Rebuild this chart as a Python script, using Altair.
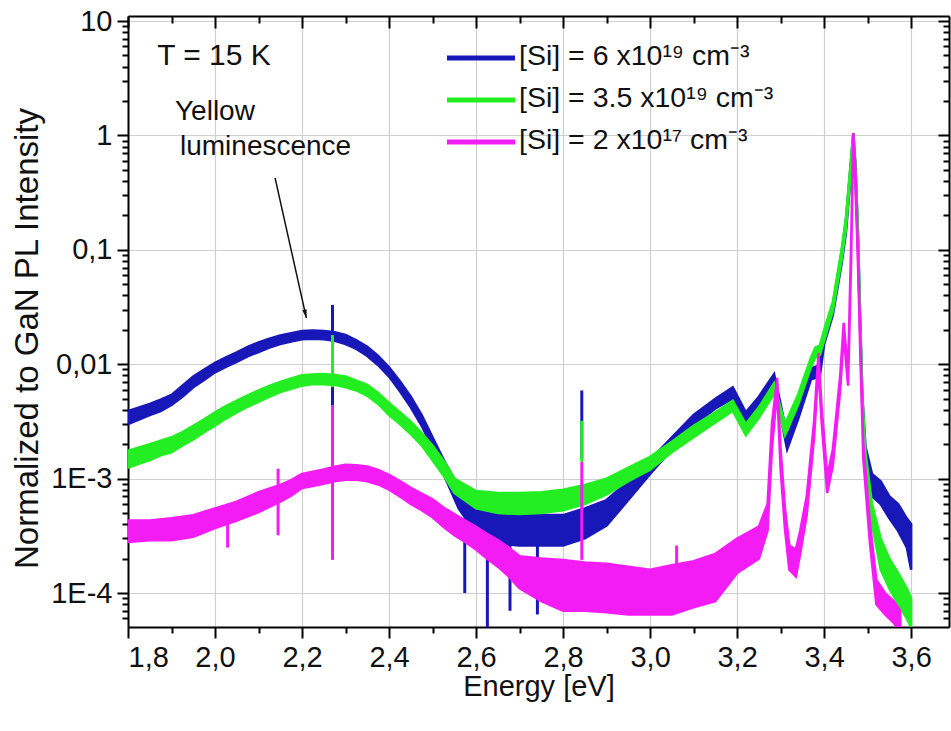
import altair as alt
import pandas as pd

# ---------------------------------------------------------------
# PL spectra at T = 15 K, normalised to the GaN band-edge peak.
# Each trace is stored as the lower / upper edge of its noisy band.
# ---------------------------------------------------------------

# [Si] = 6 x10^19 cm^-3
si6_E = [1.80, 1.85, 1.875, 1.90, 1.925, 1.95, 1.975, 2.00, 2.025, 2.05, 2.075, 2.10,
         2.125, 2.15, 2.175, 2.20, 2.225, 2.25, 2.275, 2.30, 2.325, 2.35, 2.375, 2.40,
         2.425, 2.45, 2.475, 2.50, 2.53, 2.56, 2.60, 2.65, 2.70, 2.75, 2.80, 2.85,
         2.90, 2.95, 3.00, 3.05, 3.10, 3.15, 3.19, 3.22, 3.25, 3.285, 3.30, 3.315,
         3.34, 3.37, 3.39, 3.40, 3.42, 3.44, 3.45, 3.46, 3.467, 3.472, 3.478, 3.483,
         3.488, 3.495, 3.51, 3.53, 3.55, 3.57, 3.59, 3.60]
si6_lo = [3.0e-3, 3.6e-3, 3.9e-3, 4.4e-3, 5.2e-3, 6.3e-3, 7.3e-3, 8.5e-3, 9.5e-3,
          1.05e-2, 1.17e-2, 1.28e-2, 1.40e-2, 1.50e-2, 1.58e-2, 1.65e-2, 1.67e-2,
          1.65e-2, 1.60e-2, 1.50e-2, 1.36e-2, 1.18e-2, 9.8e-3, 7.8e-3, 5.8e-3, 4.2e-3,
          2.9e-3, 1.85e-3, 1.0e-3, 5.5e-4, 3.3e-4, 2.7e-4, 2.6e-4, 2.6e-4, 2.6e-4,
          3.0e-4, 3.9e-4, 6.5e-4, 1.1e-3, 1.8e-3, 2.9e-3, 4.1e-3, 5.0e-3, 3.0e-3,
          4.2e-3, 6.6e-3, 3.5e-3, 1.8e-3, 3.3e-3, 7.4e-3, 7.8e-3, 1.5e-2, 2.7e-2,
          7.5e-2, 0.14, 0.40, 0.92, 0.42, 0.10, 1.8e-2, 4.0e-3, 1.4e-3, 7.0e-4,
          6.0e-4, 4.5e-4, 3.5e-4, 2.5e-4, 1.6e-4]
si6_hi = [3.9e-3, 4.5e-3, 4.9e-3, 5.4e-3, 6.5e-3, 7.8e-3, 9.0e-3, 1.03e-2, 1.15e-2,
          1.27e-2, 1.42e-2, 1.55e-2, 1.67e-2, 1.78e-2, 1.87e-2, 1.95e-2, 1.97e-2,
          1.95e-2, 1.90e-2, 1.80e-2, 1.62e-2, 1.42e-2, 1.18e-2, 9.4e-3, 7.1e-3, 5.2e-3,
          3.6e-3, 2.3e-3, 1.35e-3, 8.5e-4, 6.0e-4, 5.0e-4, 4.8e-4, 4.8e-4, 4.8e-4,
          5.5e-4, 6.5e-4, 9.5e-4, 1.45e-3, 2.3e-3, 3.6e-3, 5.0e-3, 6.3e-3, 3.8e-3,
          5.2e-3, 8.2e-3, 4.5e-3, 2.3e-3, 4.1e-3, 9.2e-3, 9.8e-3, 1.9e-2, 3.3e-2,
          9.5e-2, 0.18, 0.50, 1.05, 0.55, 0.13, 2.4e-2, 5.2e-3, 1.9e-3, 1.1e-3,
          9.5e-4, 7.0e-4, 6.0e-4, 4.5e-4, 4.0e-4]

# [Si] = 3.5 x10^19 cm^-3
si35_E = [1.80, 1.85, 1.875, 1.90, 1.925, 1.95, 1.975, 2.00, 2.025, 2.05, 2.075, 2.10,
          2.125, 2.15, 2.175, 2.20, 2.225, 2.25, 2.275, 2.30, 2.325, 2.35, 2.375, 2.40,
          2.425, 2.45, 2.475, 2.50, 2.53, 2.55, 2.60, 2.65, 2.70, 2.75, 2.80, 2.85,
          2.90, 2.95, 3.00, 3.05, 3.10, 3.15, 3.19, 3.22, 3.25, 3.285, 3.31, 3.34,
          3.37, 3.38, 3.39, 3.40, 3.42, 3.44, 3.45, 3.46, 3.467, 3.472, 3.478, 3.483,
          3.488, 3.495, 3.51, 3.53, 3.55, 3.57, 3.59, 3.60]
si35_lo = [1.25e-3, 1.45e-3, 1.6e-3, 1.7e-3, 1.95e-3, 2.2e-3, 2.55e-3, 2.9e-3, 3.35e-3,
           3.8e-3, 4.25e-3, 4.7e-3, 5.2e-3, 5.7e-3, 6.1e-3, 6.5e-3, 6.7e-3, 6.7e-3,
           6.6e-3, 6.3e-3, 5.9e-3, 5.3e-3, 4.5e-3, 3.6e-3, 3.0e-3, 2.45e-3, 1.95e-3,
           1.45e-3, 1.0e-3, 7.5e-4, 5.5e-4, 5.0e-4, 4.9e-4, 5.0e-4, 5.3e-4, 6.0e-4,
           7.3e-4, 9.5e-4, 1.2e-3, 1.7e-3, 2.3e-3, 3.1e-3, 3.9e-3, 2.4e-3, 3.4e-3,
           5.5e-3, 2.4e-3, 4.4e-3, 9.5e-3, 1.15e-2, 1.2e-2, 1.6e-2, 2.9e-2, 8.0e-2,
           0.15, 0.42, 0.92, 0.44, 0.11, 2.0e-2, 4.0e-3, 1.3e-3, 4.0e-4, 1.6e-4,
           1.1e-4, 8.0e-5, 6.0e-5, 5.0e-5]
si35_hi = [1.75e-3, 2.0e-3, 2.15e-3, 2.3e-3, 2.55e-3, 2.9e-3, 3.3e-3, 3.8e-3, 4.3e-3,
           4.8e-3, 5.35e-3, 5.9e-3, 6.45e-3, 7.0e-3, 7.5e-3, 8.0e-3, 8.15e-3, 8.2e-3,
           8.05e-3, 7.8e-3, 7.2e-3, 6.6e-3, 5.6e-3, 4.6e-3, 3.8e-3, 3.15e-3, 2.5e-3,
           1.95e-3, 1.35e-3, 1.0e-3, 7.8e-4, 7.5e-4, 7.5e-4, 7.6e-4, 8.0e-4, 8.8e-4,
           1.0e-3, 1.25e-3, 1.55e-3, 2.1e-3, 2.9e-3, 3.8e-3, 4.8e-3, 3.0e-3, 4.2e-3,
           6.8e-3, 3.0e-3, 5.4e-3, 1.15e-2, 1.4e-2, 1.45e-2, 2.0e-2, 3.5e-2, 0.10,
           0.19, 0.52, 1.05, 0.56, 0.14, 2.6e-2, 5.2e-3, 1.7e-3, 6.0e-4, 3.0e-4,
           2.0e-4, 1.5e-4, 1.1e-4, 9.0e-5]

# [Si] = 2 x10^17 cm^-3
si2_E = [1.80, 1.85, 1.90, 1.95, 2.00, 2.05, 2.10, 2.15, 2.175, 2.20, 2.225, 2.25,
         2.275, 2.30, 2.325, 2.35, 2.375, 2.40, 2.425, 2.45, 2.475, 2.50, 2.525, 2.55,
         2.575, 2.60, 2.625, 2.65, 2.675, 2.70, 2.75, 2.80, 2.85, 2.90, 2.95, 3.00,
         3.05, 3.10, 3.15, 3.20, 3.25, 3.27, 3.28, 3.292, 3.30, 3.31, 3.32, 3.335,
         3.345, 3.36, 3.377, 3.387, 3.394, 3.407, 3.42, 3.437, 3.445, 3.455, 3.462,
         3.467, 3.472, 3.478, 3.483, 3.49, 3.505, 3.52, 3.54, 3.56, 3.575]
si2_lo = [2.8e-4, 2.9e-4, 2.9e-4, 3.1e-4, 3.7e-4, 4.3e-4, 5.1e-4, 6.3e-4, 7.1e-4,
          8.3e-4, 8.6e-4, 9.0e-4, 9.5e-4, 9.8e-4, 9.8e-4, 9.5e-4, 8.9e-4, 8.0e-4,
          7.0e-4, 6.0e-4, 5.3e-4, 4.6e-4, 3.8e-4, 3.2e-4, 2.8e-4, 2.4e-4, 2.0e-4,
          1.7e-4, 1.4e-4, 1.1e-4, 8.5e-5, 7.0e-5, 7.0e-5, 6.8e-5, 6.5e-5, 6.5e-5,
          6.5e-5, 7.5e-5, 8.5e-5, 1.5e-4, 2.0e-4, 3.5e-4, 1.8e-3, 6.0e-3, 1.2e-3,
          3.6e-4, 1.6e-4, 1.4e-4, 2.2e-4, 4.8e-4, 2.3e-3, 9.5e-3, 3.2e-3, 7.5e-4,
          1.3e-3, 6.0e-3, 1.8e-2, 6.5e-3, 8.0e-2, 0.92, 0.38, 7.0e-2, 1.3e-2, 1.5e-3,
          2.8e-4, 8.0e-5, 6.5e-5, 5.5e-5, 4.5e-5]
si2_hi = [4.3e-4, 4.3e-4, 4.5e-4, 4.8e-4, 5.5e-4, 6.3e-4, 7.6e-4, 8.8e-4, 9.7e-4,
          1.1e-3, 1.15e-3, 1.2e-3, 1.27e-3, 1.32e-3, 1.31e-3, 1.28e-3, 1.19e-3, 1.08e-3,
          9.5e-4, 8.3e-4, 7.4e-4, 6.6e-4, 5.6e-4, 4.9e-4, 4.3e-4, 3.8e-4, 3.3e-4,
          2.9e-4, 2.5e-4, 2.1e-4, 2.0e-4, 1.95e-4, 1.85e-4, 1.8e-4, 1.7e-4, 1.6e-4,
          1.75e-4, 1.9e-4, 2.2e-4, 3.0e-4, 3.8e-4, 6.0e-4, 3.0e-3, 7.6e-3, 1.8e-3,
          5.5e-4, 2.6e-4, 2.4e-4, 3.5e-4, 7.0e-4, 3.2e-3, 1.25e-2, 4.4e-3, 1.05e-3,
          1.8e-3, 8.0e-3, 2.3e-2, 8.5e-3, 0.11, 1.05, 0.50, 9.0e-2, 1.8e-2, 2.0e-3,
          4.2e-4, 1.3e-4, 1.0e-4, 8.5e-5, 7.0e-5]

# narrow spikes (energy, lower end, upper end) for each trace
si6_spk_E = [2.270, 2.843, 2.574, 2.626, 2.678, 2.741]
si6_spk_lo = [4.4e-3, 1.5e-3, 1.0e-4, 5.0e-5, 7.0e-5, 6.5e-5]
si6_spk_hi = [3.3e-2, 5.9e-3, 4.0e-4, 4.0e-4, 3.5e-4, 3.5e-4]
si35_spk_E = [2.270, 2.843]
si35_spk_lo = [6.3e-3, 1.4e-3]
si35_spk_hi = [1.8e-2, 3.2e-3]
si2_spk_E = [2.029, 2.145, 2.270, 2.843, 3.061]
si2_spk_lo = [2.5e-4, 3.2e-4, 1.95e-4, 1.95e-4, 1.5e-4]
si2_spk_hi = [5.5e-4, 1.22e-3, 4.4e-3, 1.4e-3, 2.6e-4]

series_labels = ["[Si] = 6 x10¹⁹ cm⁻³", "[Si] = 3.5 x10¹⁹ cm⁻³", "[Si] = 2 x10¹⁷ cm⁻³"]
series_colors = ["#1818B8", "#22EE22", "#F41CF4"]

# annotations (data coordinates)
arrow_E = [2.138, 2.210]
arrow_I = [0.425, 0.0253]
note_text = ["T = 15 K", "Yellow", "luminescence"]
note_E = [1.867, 1.908, 1.9195]
note_I = [4.12, 1.363, 0.674]
note_size = [30, 28, 28]

FONT = "Liberation Sans"
W, H = 821, 611

xs = alt.Scale(domain=[1.8, 3.687], nice=False, zero=False)
ys = alt.Scale(type="log", domain=[5.05e-5, 11.06], nice=False)

x_ticks = [round(1.8 + 0.1 * i, 1) for i in range(19)]
y_ticks = []
for d in range(-5, 1):
    for m in range(1, 10):
        v = m * 10.0 ** d
        if 5.0e-5 <= v <= 11:
            y_ticks.append(v)
y_ticks.append(10.0)

x_major = "abs(datum.value*5 - round(datum.value*5)) < 0.01"
y_major = "abs(log(datum.value)/LN10 - round(log(datum.value)/LN10)) < 0.001"

x_label_expr = ("abs(datum.value*5 - round(datum.value*5)) < 0.01 ? "
                "replace(format(datum.value, '.1f'), '.', ',') : ''")
y_label_expr = ("abs(log(datum.value)/LN10 - round(log(datum.value)/LN10)) < 0.001 ? "
                "(round(log(datum.value)/LN10) == 1 ? '10' : "
                "round(log(datum.value)/LN10) == 0 ? '1' : "
                "round(log(datum.value)/LN10) == -1 ? '0,1' : "
                "round(log(datum.value)/LN10) == -2 ? '0,01' : "
                "'1E' + round(log(datum.value)/LN10)) : ''")

common = dict(domainColor="black", domainWidth=2, tickColor="black", tickWidth=2,
              labelFont=FONT, titleFont=FONT, labelColor="#111", titleColor="#111",
              titleFontWeight="normal")

bottom_axis = alt.Axis(
    orient="bottom", values=x_ticks, labelExpr=x_label_expr,
    tickSize={"condition": {"test": x_major, "value": 11}, "value": 6},
    grid=True, gridColor="#cfcfcf", gridWidth=1.2,
    gridOpacity={"condition": {"test": x_major, "value": 1}, "value": 0},
    labelFontSize=29, labelPadding=5, title="Energy [eV]", titleFontSize=29,
    titleY=59, titleBaseline="middle", **common)
left_axis = alt.Axis(
    orient="left", values=y_ticks, labelExpr=y_label_expr,
    tickSize={"condition": {"test": y_major, "value": 11}, "value": 6},
    grid=True, gridColor="#cfcfcf", gridWidth=1.2,
    gridOpacity={"condition": {"test": y_major, "value": 1}, "value": 0},
    labelFontSize=29, labelPadding=5, title="Normalized to GaN PL Intensity",
    titleFontSize=33, titleX=-101, titleY=322, titleBaseline="middle", **common)
top_axis = alt.Axis(
    orient="bottom", offset=-H, values=x_ticks, labels=False, grid=False, title="",
    tickSize={"condition": {"test": x_major, "value": 12}, "value": 7}, **common)
right_axis = alt.Axis(
    orient="left", offset=-W, values=y_ticks, labels=False, grid=False, title="",
    tickSize={"condition": {"test": y_major, "value": 11}, "value": 6}, **common)


def band(E, lo, hi, color, axes=False):
    df = pd.DataFrame({"E": E, "lo": lo, "hi": hi})
    xa = bottom_axis if axes else None
    ya = left_axis if axes else None
    return alt.Chart(df).mark_area(
        color=color, stroke=color, strokeWidth=2.5, clip=True, interpolate="linear"
    ).encode(
        x=alt.X("E:Q", scale=xs, axis=xa),
        y=alt.Y("lo:Q", scale=ys, axis=ya),
        y2="hi:Q",
    )


def spikes(E, lo, hi, color):
    df = pd.DataFrame({"E": E, "lo": lo, "hi": hi})
    return alt.Chart(df).mark_rule(color=color, strokeWidth=3, clip=True).encode(
        x=alt.X("E:Q", scale=xs, axis=None),
        y=alt.Y("lo:Q", scale=ys, axis=None),
        y2="hi:Q",
    )


frame = alt.Chart(pd.DataFrame({"E": si6_E, "lo": si6_lo})).mark_point(opacity=0).encode(
    x=alt.X("E:Q", scale=xs, axis=top_axis),
    y=alt.Y("lo:Q", scale=ys, axis=right_axis),
)

arrow_df = pd.DataFrame({"E0": [arrow_E[0]], "I0": [arrow_I[0]],
                         "E1": [arrow_E[1]], "I1": [arrow_I[1]]})
arrow_line = alt.Chart(arrow_df).mark_rule(color="#111", strokeWidth=1.5).encode(
    x=alt.X("E0:Q", scale=xs, axis=None), y=alt.Y("I0:Q", scale=ys, axis=None),
    x2="E1:Q", y2="I1:Q")
arrow_head = alt.Chart(arrow_df).mark_point(
    shape="M0,0L-0.45,-1.7L0.45,-1.7Z", filled=True, color="#111", opacity=1,
    size=100, angle=347).encode(
    x=alt.X("E1:Q", scale=xs, axis=None), y=alt.Y("I1:Q", scale=ys, axis=None))

notes = alt.Chart(pd.DataFrame({"t": note_text, "E": note_E, "I": note_I,
                                "s": note_size})).mark_text(
    font=FONT, align="left", baseline="alphabetic", color="#111").encode(
    x=alt.X("E:Q", scale=xs, axis=None), y=alt.Y("I:Q", scale=ys, axis=None),
    size=alt.Size("s:Q", scale=None, legend=None), text="t:N")

# legend block, upper middle of the plot
legend_layers = []
for i, (lab, col) in enumerate(zip(series_labels, series_colors)):
    one = alt.Chart(pd.DataFrame({"t": [lab]}))
    legend_layers.append(one.mark_rule(color=col, strokeWidth=5).encode(
        x=alt.value(319), x2=alt.value(387), y=alt.value(42 + 42 * i)))
    legend_layers.append(one.mark_text(
        font=FONT, fontSize=28.5, align="left", baseline="middle", color="#111").encode(
        x=alt.value(391), y=alt.value(40 + 42 * i), text="t:N"))

chart = alt.layer(
    band(si6_E, si6_lo, si6_hi, series_colors[0], axes=True),
    spikes(si6_spk_E, si6_spk_lo, si6_spk_hi, series_colors[0]),
    band(si35_E, si35_lo, si35_hi, series_colors[1]),
    spikes(si35_spk_E, si35_spk_lo, si35_spk_hi, series_colors[1]),
    band(si2_E, si2_lo, si2_hi, series_colors[2]),
    spikes(si2_spk_E, si2_spk_lo, si2_spk_hi, series_colors[2]),
    frame, arrow_line, arrow_head, notes, *legend_layers,
).resolve_axis(x="independent", y="independent").properties(
    width=W, height=H,
    autosize=alt.AutoSizeParams(type="none"),
    padding={"left": 128, "top": 16, "right": 2, "bottom": 104},
    background="white",
).configure_view(stroke=None)

chart.save("out.html", embed_options={"renderer": "svg", "actions": False})
